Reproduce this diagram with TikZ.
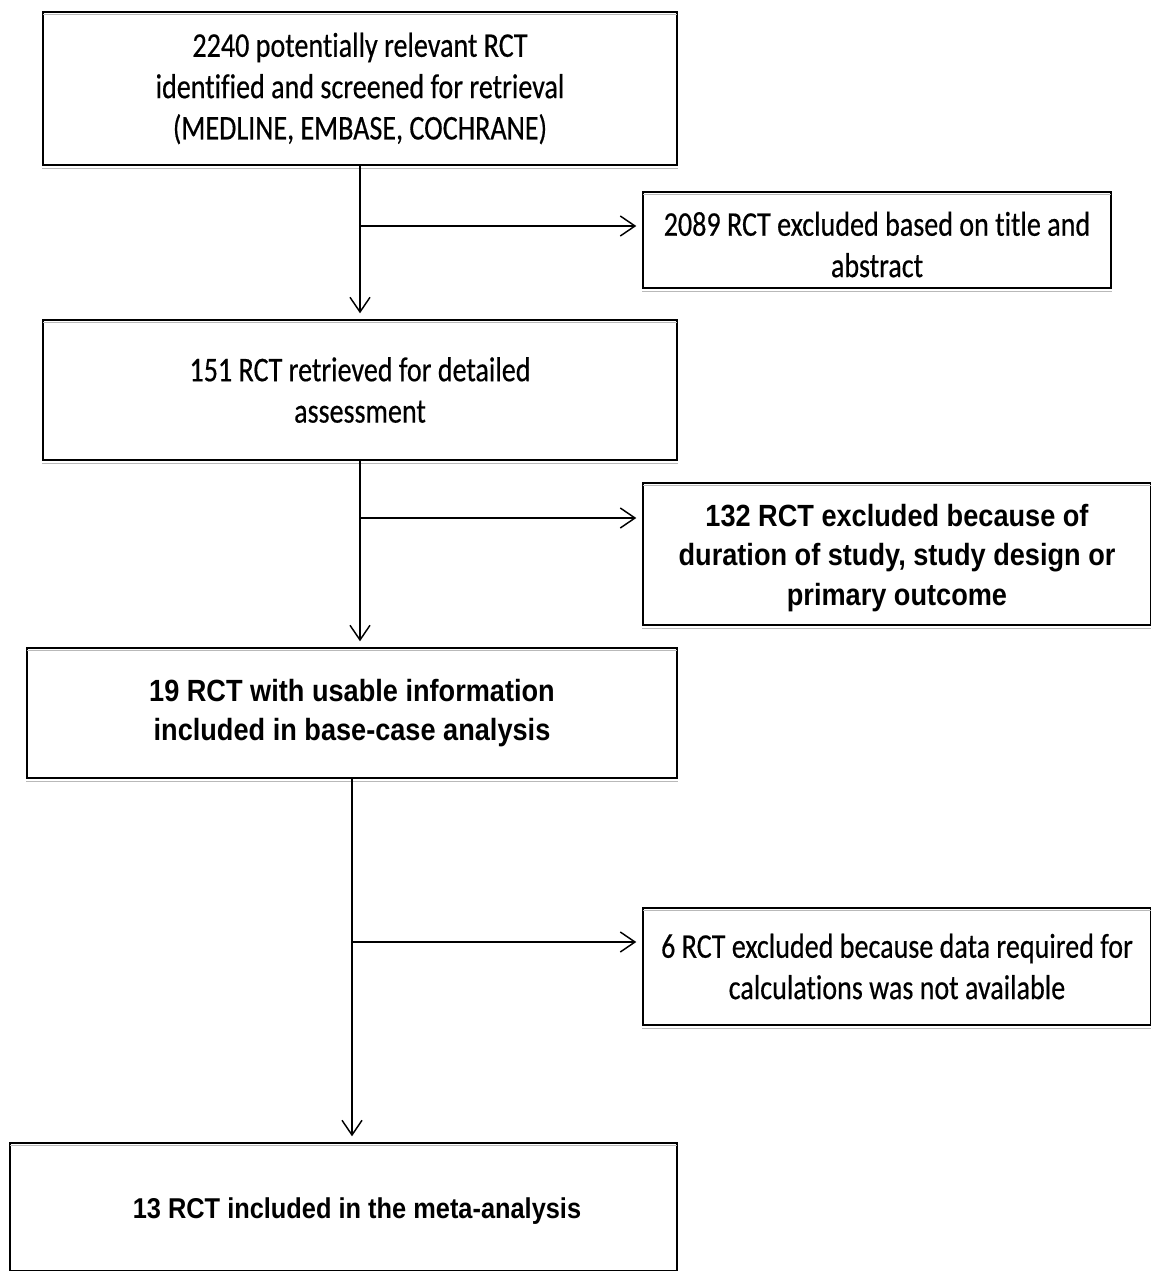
\documentclass[tikz,border=0pt]{standalone}
\usepackage{fontspec}
\usetikzlibrary{arrows.meta}
\setmainfont[Ligatures=NoCommon,FakeStretch=0.81,FakeBold=0.4]{Carlito}
\newfontfamily\narrowfont[FakeStretch=0.885]{Liberation Sans}
\begin{document}
\begin{tikzpicture}[x=0.75pt,y=-0.75pt,
  frame/.style={draw=black,line width=1.1pt,fill=white,inner sep=0pt},
  boxc/.style={frame,align=center,font=\fontsize{26}{31}\selectfont},
  boxn/.style={frame,align=center,font=\narrowfont\bfseries\fontsize{23}{29.5}\selectfont},
  txtc/.style={align=center,inner sep=0pt,font=\fontsize{26}{31}\selectfont},
  txtn/.style={align=center,inner sep=0pt,font=\narrowfont\bfseries\fontsize{23}{29.5}\selectfont},
  arr/.style={line width=1.1pt,-{Straight Barb[length=11pt,width=15pt,line width=1.1pt]},shorten >=4.5pt},
  sh/.style={gray!55,line width=1pt}]
\useasboundingbox (0,0) rectangle (1151,1271);
\fill[white] (0,0) rectangle (1151,1271);

\node[boxc,minimum width=475.5pt,minimum height=114.75pt] (b1) at (360,88.5)
  {2240 potentially relevant RCT\\identified and screened for retrieval\\(MEDLINE, EMBASE, COCHRANE)};
\node[frame,minimum width=351pt,minimum height=72pt] (b2) at (877,240) {};
\node[txtc] (t2) at (877,244.5) {2089 RCT excluded based on title and\\abstract};
\node[boxc,minimum width=475.5pt,minimum height=105pt] (b3) at (360,390)
  {151 RCT retrieved for detailed\\assessment};
\node[frame,minimum width=381pt,minimum height=106.5pt] (b4) at (897,554) {};
\node[txtn] (t4) at (897,558) {132 RCT excluded because of\\duration of study, study design or\\primary outcome};
\node[boxn,minimum width=487.5pt,minimum height=97.5pt] (b5) at (352,713)
  {19 RCT with usable information\\included in base-case analysis};
\node[boxc,minimum width=381pt,minimum height=87.75pt] (b6) at (897,966.5)
  {6 RCT excluded because data required for\\calculations was not available};
\node[frame,minimum width=500.25pt,minimum height=96pt] (b7) at (343.5,1207) {};
\node[txtn,font=\narrowfont\bfseries\fontsize{21.5}{28}\selectfont] (t7) at (357,1211) {13 RCT included in the meta-analysis};

% shading lines under top and bottom edges
\foreach \b in {b1,b2,b3,b4,b5,b6,b7}{
  \draw[sh] ([yshift=-2.2pt,xshift=0.8pt]\b.north west) -- ([yshift=-2.2pt,xshift=-0.8pt]\b.north east);
  \draw[sh] ([yshift=-2.2pt]\b.south west) -- ([yshift=-2.2pt]\b.south east);
}

% connectors
\coordinate (j1) at (360,226);
\coordinate (j2) at (360,518);
\coordinate (j3) at (352,942);
\draw[arr] (b1.south) -- (b3.north);
\draw[arr] (j1) -- (j1 -| b2.west);
\draw[arr] (b3.south) -- (b3.south |- b5.north);
\draw[arr] (j2) -- (j2 -| b4.west);
\draw[arr] (b5.south) -- (b5.south |- b7.north);
\draw[arr] (j3) -- (j3 -| b6.west);
\end{tikzpicture}
\end{document}
